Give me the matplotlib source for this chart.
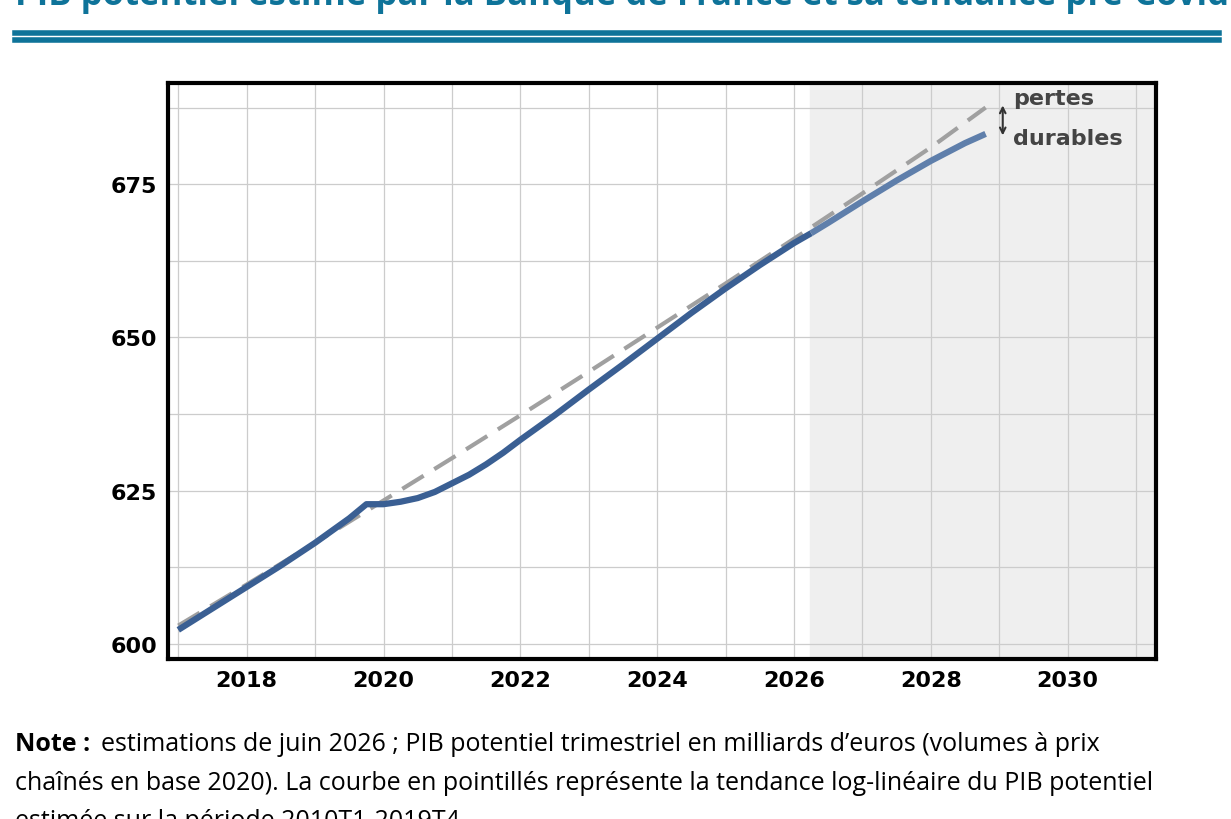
import matplotlib.pyplot as plt
from matplotlib.patches import FancyArrowPatch

years = [2017.0, 2017.5, 2018.0, 2018.5, 2019.0, 2019.5, 2019.75, 2020.0, 2020.25, 2020.5, 2020.75,
         2021.0, 2021.25, 2021.5, 2021.75, 2022.0, 2022.5, 2023.0, 2023.5, 2024.0, 2024.5, 2025.0, 2025.5,
         2026.0, 2026.25]
pib = [602.3, 605.8, 609.3, 612.8, 616.5, 620.5, 622.8, 622.8, 623.2, 623.8, 624.8,
       626.2, 627.6, 629.3, 631.2, 633.3, 637.3, 641.5, 645.6, 649.8, 654.0, 658.0, 661.8, 665.4, 667.0]
proj_years = [2026.25, 2026.5, 2027.0, 2027.5, 2028.0, 2028.5, 2028.8]
proj_pib = [667.0, 668.7, 672.2, 675.6, 678.8, 681.7, 683.2]
trend_years = [2017.0, 2018.0, 2019.0, 2020.0, 2021.0, 2022.0, 2023.0, 2024.0, 2025.0,
               2026.0, 2027.0, 2028.0, 2028.8]
trend = [603.0, 609.7, 616.5, 623.4, 630.3, 637.3, 644.4, 651.6, 658.8, 666.1, 673.5, 681.0, 687.5]

fig = plt.figure(figsize=(12.31, 8.2), dpi=100)
ax = fig.add_axes([168/1231, 1-660/820, (1156-168)/1231, (660-84)/820])

ax.axvspan(2026.24, 2031.3, color="#efefef", zorder=0)
ax.plot(trend_years, trend, color="#a0a0a0", lw=3, dashes=(6, 3), zorder=3)
ax.plot(years, pib, color="#3a5f93", lw=4.5, zorder=4, solid_capstyle="butt", solid_joinstyle="round")
ax.plot(proj_years, proj_pib, color="#5f7fab", lw=4.5, zorder=4, solid_capstyle="butt", solid_joinstyle="round")

ax.set_xlim(2016.85, 2031.29)
ax.set_ylim(597.55, 691.5)
ax.set_xticks(range(2018, 2031, 2))
ax.set_xticks(range(2017, 2032, 1), minor=True)
ax.set_yticks([600, 625, 650, 675])
ax.set_yticks([612.5, 637.5, 662.5, 687.5], minor=True)
ax.grid(True, which="both", color="#cccccc", lw=0.9, zorder=1)
ax.set_axisbelow(True)
ax.tick_params(which="both", length=0)
ax.tick_params(axis="both", labelsize=16, pad=8)
for lab in ax.get_xticklabels() + ax.get_yticklabels():
    lab.set_fontweight("bold")
for s in ax.spines.values():
    s.set_linewidth(3)
    s.set_color("black")

ax.add_patch(FancyArrowPatch((2029.05, 682.5), (2029.05, 688.3), arrowstyle="<->",
                             mutation_scale=10, color="#333333", lw=1.5, zorder=5))
ax.text(2029.2, 689.0, "pertes", fontsize=16, fontweight="bold", color="#444444", va="center")
ax.text(2029.2, 682.6, "durables", fontsize=16, fontweight="bold", color="#444444", va="center")

fig.text(0.012, 1.005, "PIB potentiel estimé par la Banque de France et sa tendance pré-Covid",
         fontsize=25, fontweight="bold", color="#0e7399", va="center", family="Open Sans")
fig.add_artist(plt.Line2D([0.012, 0.99], [1-34/820, 1-34/820], color="#0e7399", lw=4))
fig.add_artist(plt.Line2D([0.012, 0.99], [1-41/820, 1-41/820], color="#0e7399", lw=4))

fig.text(0.012, 1-745/820, "Note :", fontsize=18, fontweight="bold", va="center", family="Open Sans")
fig.text(0.082, 1-745/820, "estimations de juin 2026 ; PIB potentiel trimestriel en milliards d’euros (volumes à prix",
         fontsize=18, va="center", family="Open Sans")
fig.text(0.012, 1-784/820, "chaînés en base 2020). La courbe en pointillés représente la tendance log-linéaire du PIB potentiel",
         fontsize=18, va="center", family="Open Sans")
fig.text(0.012, 1-822/820, "estimée sur la période 2010T1-2019T4.", fontsize=18, va="center", family="Open Sans")

fig.savefig("out.png", dpi=100)
